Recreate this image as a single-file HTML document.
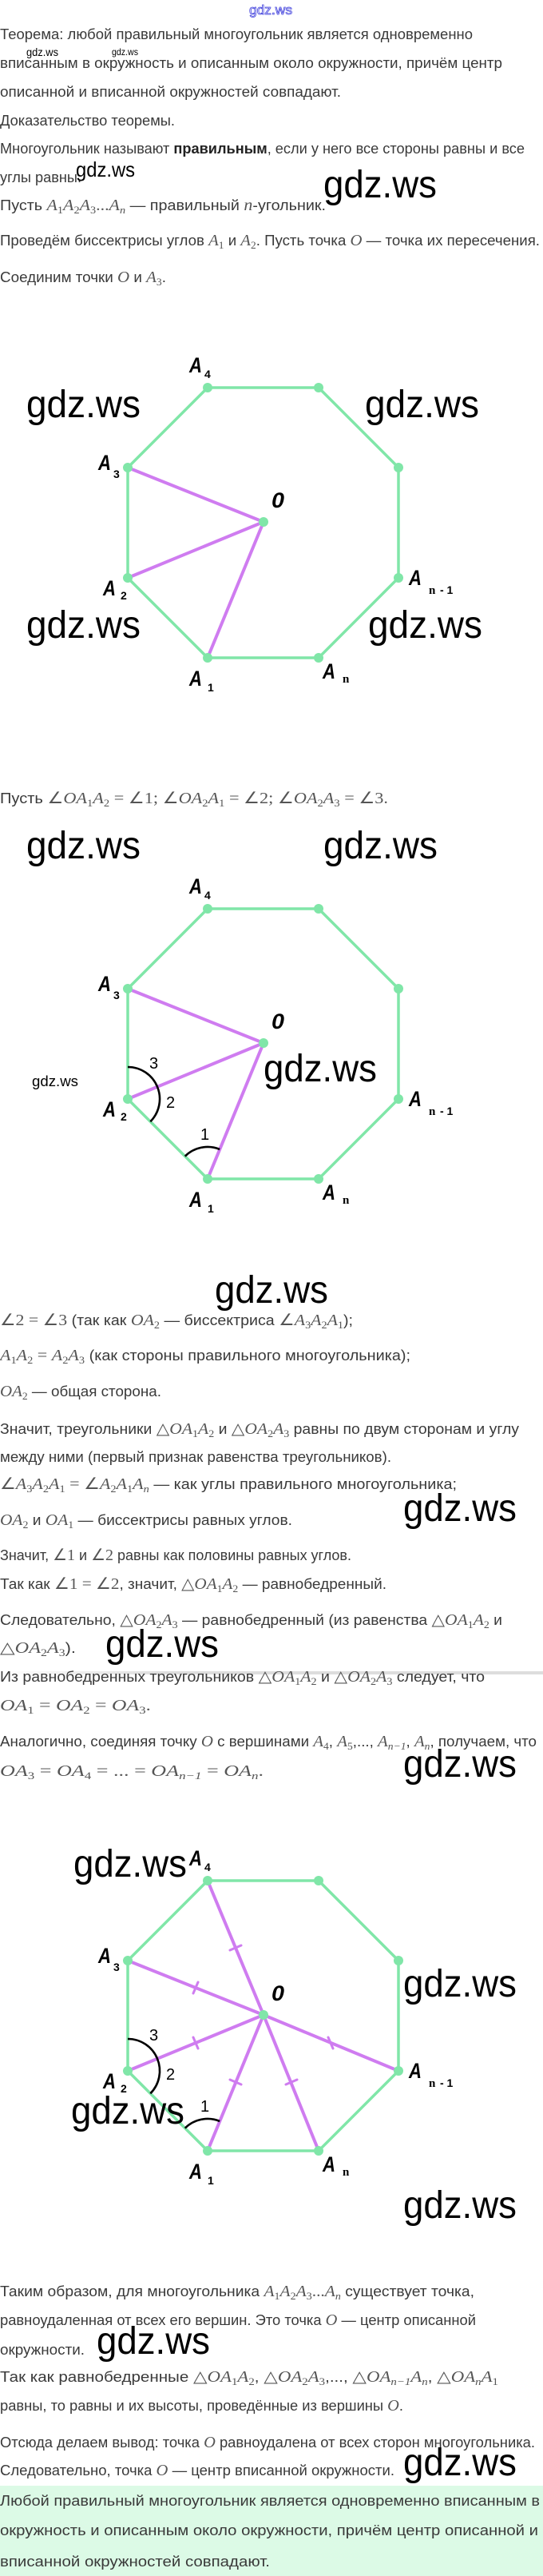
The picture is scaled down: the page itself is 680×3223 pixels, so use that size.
<!DOCTYPE html>
<html><head><meta charset="utf-8"><style>
html,body{margin:0;padding:0;background:#fff}
svg{display:block}
.t{font-family:"Liberation Sans",sans-serif;font-size:18px;fill:#3a3a3a}
.i{font-family:"Liberation Serif",serif;font-style:italic;fill:#555;font-size:20px}
.r{font-family:"Liberation Serif",serif;fill:#555;font-size:20px}
.s{font-size:13px;baseline-shift:-4px}
.w{font-family:"Liberation Sans",sans-serif;fill:#000}
.L{font-family:"Liberation Sans",sans-serif;font-style:italic;font-weight:bold;font-size:27px;fill:#000}
.ls{font-family:"Liberation Sans",sans-serif;font-weight:bold;font-size:14px;fill:#000}
.ln{font-family:"Liberation Serif",serif;font-weight:bold;font-size:15px;fill:#000}
.num{font-family:"Liberation Sans",sans-serif;font-size:20px;fill:#000}
.g{stroke:#80e6a8;stroke-width:3.5;fill:none;stroke-linejoin:round}
.p{stroke:#cf7cf0;stroke-width:4;fill:none;stroke-linecap:round}
.d{fill:#80e6a8}
.a{stroke:#000;stroke-width:2.6;fill:none}
</style></head><body>
<svg width="680" height="3223" viewBox="0 0 680 3223" xmlns="http://www.w3.org/2000/svg">
<defs>
<linearGradient id="sh" x1="0" x2="1"><stop offset="0" stop-color="#fff"/><stop offset="0.3" stop-color="#ddd"/><stop offset="1" stop-color="#ddd"/></linearGradient>
</defs>

<text x="312" y="18" font-family="Liberation Sans,sans-serif" font-size="17" fill="#fff" stroke="#4444dd" stroke-width="0.8" textLength="54" lengthAdjust="spacingAndGlyphs">gdz.ws</text>

<text class="t" x="0" y="49" textLength="592" lengthAdjust="spacingAndGlyphs">Теорема: любой правильный многоугольник является одновременно</text>
<text class="w" x="33" y="70" font-size="14" textLength="40" lengthAdjust="spacingAndGlyphs">gdz.ws</text>
<text class="w" x="140" y="69" font-size="12" textLength="33" lengthAdjust="spacingAndGlyphs">gdz.ws</text>
<text class="t" x="0" y="85" textLength="629" lengthAdjust="spacingAndGlyphs">вписанным в окружность и описанным около окружности, причём центр</text>
<text class="t" x="0" y="121" textLength="427" lengthAdjust="spacingAndGlyphs">описанной и вписанной окружностей совпадают.</text>
<text class="t" x="0" y="157" textLength="219" lengthAdjust="spacingAndGlyphs">Доказательство теоремы.</text>
<text class="t" x="0" y="192" textLength="657" lengthAdjust="spacingAndGlyphs">Многоугольник называют <tspan font-weight="bold" fill="#222">правильным</tspan>, если у него все стороны равны и все</text>
<text class="t" x="0" y="228" textLength="102" lengthAdjust="spacingAndGlyphs">углы равны.</text>
<text class="w" x="95" y="221" font-size="26" textLength="74" lengthAdjust="spacingAndGlyphs">gdz.ws</text>
<text class="t" x="0" y="263" textLength="408" lengthAdjust="spacingAndGlyphs">Пусть <tspan class="i">A</tspan><tspan class="r s">1</tspan><tspan class="i">A</tspan><tspan class="r s">2</tspan><tspan class="i">A</tspan><tspan class="r s">3</tspan><tspan class="r">...</tspan><tspan class="i">A</tspan><tspan class="i s">n</tspan> — правильный <tspan class="i">n</tspan>-угольник.</text>
<text class="w" x="405" y="247" font-size="48" textLength="142" lengthAdjust="spacingAndGlyphs">gdz.ws</text>
<text class="t" x="0" y="307" textLength="676" lengthAdjust="spacingAndGlyphs">Проведём биссектрисы углов <tspan class="i">A</tspan><tspan class="r s">1</tspan> и <tspan class="i">A</tspan><tspan class="r s">2</tspan>. Пусть точка <tspan class="i">O</tspan> — точка их пересечения.</text>
<text class="t" x="0" y="353" textLength="208" lengthAdjust="spacingAndGlyphs">Соединим точки <tspan class="i">O</tspan> и <tspan class="i">A</tspan><tspan class="r s">3</tspan>.</text>

<g>
<polygon class="g" points="260,485 399,485 499,585 499,723 399,823 260,823 160,723 160,585"/>
<line class="p" x1="160" y1="585" x2="330" y2="653"/>
<line class="p" x1="160" y1="723" x2="330" y2="653"/>
<line class="p" x1="260" y1="823" x2="330" y2="653"/>
<g class="d"><circle cx="260" cy="485" r="6"/><circle cx="399" cy="485" r="6"/><circle cx="499" cy="585" r="6"/><circle cx="499" cy="723" r="6"/><circle cx="399" cy="823" r="6"/><circle cx="260" cy="823" r="6"/><circle cx="160" cy="723" r="6"/><circle cx="160" cy="585" r="6"/><circle cx="330" cy="653" r="6"/></g>
<text class="L" x="237" y="466" textLength="16" lengthAdjust="spacingAndGlyphs">A</text><text class="ls" x="256" y="473">4</text>
<text class="L" x="123" y="588" textLength="16" lengthAdjust="spacingAndGlyphs">A</text><text class="ls" x="142" y="598">3</text>
<text class="L" x="340" y="635" textLength="16" lengthAdjust="spacingAndGlyphs">0</text>
<text class="L" x="129" y="745" textLength="16" lengthAdjust="spacingAndGlyphs">A</text><text class="ls" x="151" y="750">2</text>
<text class="L" x="512" y="732" textLength="16" lengthAdjust="spacingAndGlyphs">A</text><text class="ln" x="537" y="743">n</text><text class="ls" x="551" y="743">- 1</text>
<text class="L" x="237" y="858" textLength="16" lengthAdjust="spacingAndGlyphs">A</text><text class="ls" x="260" y="865">1</text>
<text class="L" x="404" y="849" textLength="16" lengthAdjust="spacingAndGlyphs">A</text><text class="ln" x="429" y="854">n</text>
<text class="w" x="33" y="522" font-size="48" textLength="143" lengthAdjust="spacingAndGlyphs">gdz.ws</text>
<text class="w" x="457" y="522" font-size="48" textLength="143" lengthAdjust="spacingAndGlyphs">gdz.ws</text>
<text class="w" x="33" y="798" font-size="48" textLength="143" lengthAdjust="spacingAndGlyphs">gdz.ws</text>
<text class="w" x="461" y="798" font-size="48" textLength="143" lengthAdjust="spacingAndGlyphs">gdz.ws</text>
</g>

<text class="t" x="0" y="1005" textLength="486" lengthAdjust="spacingAndGlyphs">Пусть <tspan class="r">∠</tspan><tspan class="i">OA</tspan><tspan class="r s">1</tspan><tspan class="i">A</tspan><tspan class="r s">2</tspan><tspan class="r"> = ∠1; ∠</tspan><tspan class="i">OA</tspan><tspan class="r s">2</tspan><tspan class="i">A</tspan><tspan class="r s">1</tspan><tspan class="r"> = ∠2; ∠</tspan><tspan class="i">OA</tspan><tspan class="r s">2</tspan><tspan class="i">A</tspan><tspan class="r s">3</tspan><tspan class="r"> = ∠3.</tspan></text>

<text class="w" x="33" y="1074" font-size="48" textLength="143" lengthAdjust="spacingAndGlyphs">gdz.ws</text>
<text class="w" x="405" y="1074" font-size="48" textLength="143" lengthAdjust="spacingAndGlyphs">gdz.ws</text>
<g transform="translate(0,652)">
<polygon class="g" points="260,485 399,485 499,585 499,723 399,823 260,823 160,723 160,585"/>
<line class="p" x1="160" y1="585" x2="330" y2="653"/>
<line class="p" x1="160" y1="723" x2="330" y2="653"/>
<line class="p" x1="260" y1="823" x2="330" y2="653"/>
<g class="d"><circle cx="260" cy="485" r="6"/><circle cx="399" cy="485" r="6"/><circle cx="499" cy="585" r="6"/><circle cx="499" cy="723" r="6"/><circle cx="399" cy="823" r="6"/><circle cx="260" cy="823" r="6"/><circle cx="160" cy="723" r="6"/><circle cx="160" cy="585" r="6"/><circle cx="330" cy="653" r="6"/></g>
<path class="a" d="M160 683 A40 40 0 0 1 188.3 751.3"/>
<path class="a" d="M231.7 794.7 A40 40 0 0 1 275.2 786"/>
<text class="num" x="187" y="685">3</text>
<text class="num" x="208" y="734">2</text>
<text class="num" x="251" y="774">1</text>
<text class="L" x="237" y="466" textLength="16" lengthAdjust="spacingAndGlyphs">A</text><text class="ls" x="256" y="473">4</text>
<text class="L" x="123" y="588" textLength="16" lengthAdjust="spacingAndGlyphs">A</text><text class="ls" x="142" y="598">3</text>
<text class="L" x="340" y="635" textLength="16" lengthAdjust="spacingAndGlyphs">0</text>
<text class="L" x="129" y="745" textLength="16" lengthAdjust="spacingAndGlyphs">A</text><text class="ls" x="151" y="750">2</text>
<text class="L" x="512" y="732" textLength="16" lengthAdjust="spacingAndGlyphs">A</text><text class="ln" x="537" y="743">n</text><text class="ls" x="551" y="743">- 1</text>
<text class="L" x="237" y="858" textLength="16" lengthAdjust="spacingAndGlyphs">A</text><text class="ls" x="260" y="865">1</text>
<text class="L" x="404" y="849" textLength="16" lengthAdjust="spacingAndGlyphs">A</text><text class="ln" x="429" y="854">n</text>
</g>
<text class="w" x="330" y="1353" font-size="48" textLength="142" lengthAdjust="spacingAndGlyphs">gdz.ws</text>
<text class="w" x="40" y="1359" font-size="18" textLength="58" lengthAdjust="spacingAndGlyphs">gdz.ws</text>
<text class="w" x="269" y="1630" font-size="48" textLength="142" lengthAdjust="spacingAndGlyphs">gdz.ws</text>

<text class="t" x="0" y="1658" textLength="442" lengthAdjust="spacingAndGlyphs"><tspan class="r">∠2 = ∠3</tspan> (так как <tspan class="i">OA</tspan><tspan class="r s">2</tspan> — биссектриса <tspan class="r">∠</tspan><tspan class="i">A</tspan><tspan class="r s">3</tspan><tspan class="i">A</tspan><tspan class="r s">2</tspan><tspan class="i">A</tspan><tspan class="r s">1</tspan>);</text>
<text class="t" x="0" y="1702" textLength="514" lengthAdjust="spacingAndGlyphs"><tspan class="i">A</tspan><tspan class="r s">1</tspan><tspan class="i">A</tspan><tspan class="r s">2</tspan><tspan class="r"> = </tspan><tspan class="i">A</tspan><tspan class="r s">2</tspan><tspan class="i">A</tspan><tspan class="r s">3</tspan> (как стороны правильного многоугольника);</text>
<text class="t" x="0" y="1747" textLength="202" lengthAdjust="spacingAndGlyphs"><tspan class="i">OA</tspan><tspan class="r s">2</tspan> — общая сторона.</text>
<text class="t" x="0" y="1794" textLength="650" lengthAdjust="spacingAndGlyphs">Значит, треугольники <tspan class="r">△</tspan><tspan class="i">OA</tspan><tspan class="r s">1</tspan><tspan class="i">A</tspan><tspan class="r s">2</tspan> и <tspan class="r">△</tspan><tspan class="i">OA</tspan><tspan class="r s">2</tspan><tspan class="i">A</tspan><tspan class="r s">3</tspan> равны по двум сторонам и углу</text>
<text class="t" x="0" y="1829" textLength="490" lengthAdjust="spacingAndGlyphs">между ними (первый признак равенства треугольников).</text>
<text class="t" x="0" y="1863" textLength="572" lengthAdjust="spacingAndGlyphs"><tspan class="r">∠</tspan><tspan class="i">A</tspan><tspan class="r s">3</tspan><tspan class="i">A</tspan><tspan class="r s">2</tspan><tspan class="i">A</tspan><tspan class="r s">1</tspan><tspan class="r"> = ∠</tspan><tspan class="i">A</tspan><tspan class="r s">2</tspan><tspan class="i">A</tspan><tspan class="r s">1</tspan><tspan class="i">A</tspan><tspan class="i s">n</tspan> — как углы правильного многоугольника;</text>
<text class="t" x="0" y="1908" textLength="366" lengthAdjust="spacingAndGlyphs"><tspan class="i">OA</tspan><tspan class="r s">2</tspan> и <tspan class="i">OA</tspan><tspan class="r s">1</tspan> — биссектрисы равных углов.</text>
<text class="w" x="505" y="1903" font-size="48" textLength="142" lengthAdjust="spacingAndGlyphs">gdz.ws</text>
<text class="t" x="0" y="1952" textLength="440" lengthAdjust="spacingAndGlyphs">Значит, <tspan class="r">∠1</tspan> и <tspan class="r">∠2</tspan> равны как половины равных углов.</text>
<text class="t" x="0" y="1988" textLength="484" lengthAdjust="spacingAndGlyphs">Так как <tspan class="r">∠1 = ∠2</tspan>, значит, <tspan class="r">△</tspan><tspan class="i">OA</tspan><tspan class="r s">1</tspan><tspan class="i">A</tspan><tspan class="r s">2</tspan> — равнобедренный.</text>
<text class="t" x="0" y="2033" textLength="629" lengthAdjust="spacingAndGlyphs">Следовательно, <tspan class="r">△</tspan><tspan class="i">OA</tspan><tspan class="r s">2</tspan><tspan class="i">A</tspan><tspan class="r s">3</tspan> — равнобедренный (из равенства <tspan class="r">△</tspan><tspan class="i">OA</tspan><tspan class="r s">1</tspan><tspan class="i">A</tspan><tspan class="r s">2</tspan> и</text>
<text class="t" x="0" y="2068" textLength="95" lengthAdjust="spacingAndGlyphs"><tspan class="r">△</tspan><tspan class="i">OA</tspan><tspan class="r s">2</tspan><tspan class="i">A</tspan><tspan class="r s">3</tspan>).</text>
<text class="w" x="132" y="2073" font-size="48" textLength="142" lengthAdjust="spacingAndGlyphs">gdz.ws</text>
<rect x="0" y="2091" width="680" height="4" fill="url(#sh)"/>
<text class="t" x="0" y="2104" textLength="607" lengthAdjust="spacingAndGlyphs">Из равнобедренных треугольников <tspan class="r">△</tspan><tspan class="i">OA</tspan><tspan class="r s">1</tspan><tspan class="i">A</tspan><tspan class="r s">2</tspan> и <tspan class="r">△</tspan><tspan class="i">OA</tspan><tspan class="r s">2</tspan><tspan class="i">A</tspan><tspan class="r s">3</tspan> следует, что</text>
<text class="t" x="0" y="2140" textLength="189" lengthAdjust="spacingAndGlyphs"><tspan class="i">OA</tspan><tspan class="r s">1</tspan><tspan class="r"> = </tspan><tspan class="i">OA</tspan><tspan class="r s">2</tspan><tspan class="r"> = </tspan><tspan class="i">OA</tspan><tspan class="r s">3</tspan><tspan class="r">.</tspan></text>
<text class="t" x="0" y="2185" textLength="672" lengthAdjust="spacingAndGlyphs">Аналогично, соединяя точку <tspan class="i">O</tspan> с вершинами <tspan class="i">A</tspan><tspan class="r s">4</tspan>, <tspan class="i">A</tspan><tspan class="r s">5</tspan>,..., <tspan class="i">A</tspan><tspan class="i s">n−1</tspan>, <tspan class="i">A</tspan><tspan class="i s">n</tspan>, получаем, что</text>
<text class="t" x="0" y="2222" textLength="330" lengthAdjust="spacingAndGlyphs"><tspan class="i">OA</tspan><tspan class="r s">3</tspan><tspan class="r"> = </tspan><tspan class="i">OA</tspan><tspan class="r s">4</tspan><tspan class="r"> = ... = </tspan><tspan class="i">OA</tspan><tspan class="i s">n−1</tspan><tspan class="r"> = </tspan><tspan class="i">OA</tspan><tspan class="i s">n</tspan><tspan class="r">.</tspan></text>
<text class="w" x="505" y="2223" font-size="48" textLength="142" lengthAdjust="spacingAndGlyphs">gdz.ws</text>

<g transform="translate(0,1868)">
<polygon class="g" points="260,485 399,485 499,585 499,723 399,823 260,823 160,723 160,585"/>
<line class="p" x1="260" y1="485" x2="330" y2="653"/>
<line class="p" x1="160" y1="585" x2="330" y2="653"/>
<line class="p" x1="160" y1="723" x2="330" y2="653"/>
<line class="p" x1="260" y1="823" x2="330" y2="653"/>
<line class="p" x1="399" y1="823" x2="330" y2="653"/>
<line class="p" x1="499" y1="723" x2="330" y2="653"/>
<g class="p" style="stroke-width:3">
<line x1="288" y1="572" x2="302" y2="566"/>
<line x1="242" y1="626" x2="248" y2="612"/>
<line x1="242" y1="681" x2="248" y2="695"/>
<line x1="288" y1="734" x2="302" y2="740"/>
<line x1="358" y1="740" x2="372" y2="734"/>
<line x1="411" y1="681" x2="417" y2="695"/>
</g>
<g class="d"><circle cx="260" cy="485" r="6"/><circle cx="399" cy="485" r="6"/><circle cx="499" cy="585" r="6"/><circle cx="499" cy="723" r="6"/><circle cx="399" cy="823" r="6"/><circle cx="260" cy="823" r="6"/><circle cx="160" cy="723" r="6"/><circle cx="160" cy="585" r="6"/><circle cx="330" cy="653" r="6"/></g>
<path class="a" d="M160 683 A40 40 0 0 1 188.3 751.3"/>
<path class="a" d="M231.7 794.7 A40 40 0 0 1 275.2 786"/>
<text class="num" x="187" y="685">3</text>
<text class="num" x="208" y="734">2</text>
<text class="num" x="251" y="774">1</text>
<text class="L" x="237" y="466" textLength="16" lengthAdjust="spacingAndGlyphs">A</text><text class="ls" x="256" y="473">4</text>
<text class="L" x="123" y="588" textLength="16" lengthAdjust="spacingAndGlyphs">A</text><text class="ls" x="142" y="598">3</text>
<text class="L" x="340" y="635" textLength="16" lengthAdjust="spacingAndGlyphs">0</text>
<text class="L" x="129" y="745" textLength="16" lengthAdjust="spacingAndGlyphs">A</text><text class="ls" x="151" y="750">2</text>
<text class="L" x="512" y="732" textLength="16" lengthAdjust="spacingAndGlyphs">A</text><text class="ln" x="537" y="743">n</text><text class="ls" x="551" y="743">- 1</text>
<text class="L" x="237" y="858" textLength="16" lengthAdjust="spacingAndGlyphs">A</text><text class="ls" x="260" y="865">1</text>
<text class="L" x="404" y="849" textLength="16" lengthAdjust="spacingAndGlyphs">A</text><text class="ln" x="429" y="854">n</text>
</g>
<text class="w" x="92" y="2348" font-size="48" textLength="142" lengthAdjust="spacingAndGlyphs">gdz.ws</text>
<text class="w" x="505" y="2498" font-size="48" textLength="142" lengthAdjust="spacingAndGlyphs">gdz.ws</text>
<text class="w" x="89" y="2657" font-size="48" textLength="142" lengthAdjust="spacingAndGlyphs">gdz.ws</text>
<text class="w" x="505" y="2775" font-size="48" textLength="142" lengthAdjust="spacingAndGlyphs">gdz.ws</text>

<text class="t" x="0" y="2873" textLength="594" lengthAdjust="spacingAndGlyphs">Таким образом, для многоугольника <tspan class="i">A</tspan><tspan class="r s">1</tspan><tspan class="i">A</tspan><tspan class="r s">2</tspan><tspan class="i">A</tspan><tspan class="r s">3</tspan><tspan class="r">...</tspan><tspan class="i">A</tspan><tspan class="i s">n</tspan> существует точка,</text>
<text class="t" x="0" y="2909" textLength="596" lengthAdjust="spacingAndGlyphs">равноудаленная от всех его вершин. Это точка <tspan class="i">O</tspan> — центр описанной</text>
<text class="t" x="0" y="2946" textLength="106" lengthAdjust="spacingAndGlyphs">окружности.</text>
<text class="w" x="121" y="2945" font-size="48" textLength="142" lengthAdjust="spacingAndGlyphs">gdz.ws</text>
<text class="t" x="0" y="2980" textLength="624" lengthAdjust="spacingAndGlyphs">Так как равнобедренные <tspan class="r">△</tspan><tspan class="i">OA</tspan><tspan class="r s">1</tspan><tspan class="i">A</tspan><tspan class="r s">2</tspan>, <tspan class="r">△</tspan><tspan class="i">OA</tspan><tspan class="r s">2</tspan><tspan class="i">A</tspan><tspan class="r s">3</tspan>,..., <tspan class="r">△</tspan><tspan class="i">OA</tspan><tspan class="i s">n−1</tspan><tspan class="i">A</tspan><tspan class="i s">n</tspan>, <tspan class="r">△</tspan><tspan class="i">OA</tspan><tspan class="i s">n</tspan><tspan class="i">A</tspan><tspan class="r s">1</tspan></text>
<text class="t" x="0" y="3016" textLength="505" lengthAdjust="spacingAndGlyphs">равны, то равны и их высоты, проведённые из вершины <tspan class="i">O</tspan>.</text>
<text class="t" x="0" y="3062" textLength="670" lengthAdjust="spacingAndGlyphs">Отсюда делаем вывод: точка <tspan class="i">O</tspan> равноудалена от всех сторон многоугольника.</text>
<text class="t" x="0" y="3097" textLength="494" lengthAdjust="spacingAndGlyphs">Следовательно, точка <tspan class="i">O</tspan> — центр вписанной окружности.</text>
<text class="w" x="505" y="3097" font-size="48" textLength="142" lengthAdjust="spacingAndGlyphs">gdz.ws</text>

<rect x="0" y="3110" width="680" height="113" fill="#dcfae6"/>
<text class="t" x="0" y="3135" textLength="676" lengthAdjust="spacingAndGlyphs">Любой правильный многоугольник является одновременно вписанным в</text>
<text class="t" x="0" y="3172" textLength="674" lengthAdjust="spacingAndGlyphs">окружность и описанным около окружности, причём центр описанной и</text>
<text class="t" x="0" y="3211" textLength="338" lengthAdjust="spacingAndGlyphs">вписанной окружностей совпадают.</text>
</svg>
</body></html>
